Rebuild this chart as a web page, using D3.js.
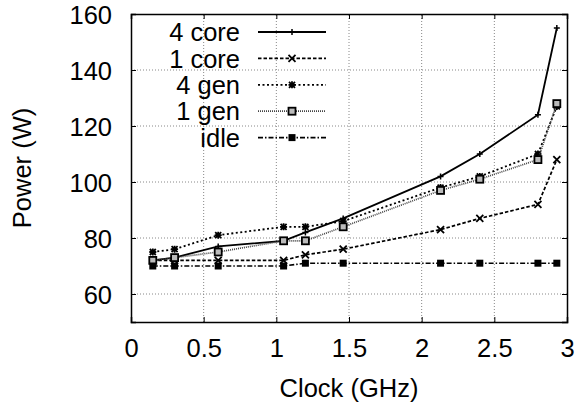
<!DOCTYPE html>
<html>
<head>
<meta charset="utf-8">
<script src="https://cdn.jsdelivr.net/npm/d3@7"></script>
<style>
  html, body { margin: 0; padding: 0; background: #fff; }
  svg { display: block; font-family: "Liberation Sans", Arial, Helvetica, sans-serif; }
</style>
</head>
<body>
<svg id="chart" width="577" height="406"></svg>
<script>
// Measured power draw against CPU clock frequency
const clock = [0.15, 0.3, 0.6, 1.05, 1.2, 1.46, 2.13, 2.4, 2.8, 2.93];
const core4 = [72, 73, 77, 79, 82, 87, 102, 110, 124, 155];
const core1 = [72, 72, 72, 72, 74, 76, 83, 87, 92, 108];
const gen4  = [75, 76, 81, 84, 84, 86, 98, 102, 110, 127];
const gen1  = [72, 73, 75, 79, 79, 84, 97, 101, 108, 128];
const idle  = [70, 70, 70, 70, 71, 71, 71, 71, 71, 71];

const seriesNames = ["4 core", "1 core", "4 gen", "1 gen", "idle"];
const xTicks = [0, 0.5, 1, 1.5, 2, 2.5, 3];
const yTicks = [60, 80, 100, 120, 140, 160];

const styles = {
  "4 core": { values: core4, dash: null,        width: 1.8, color: "#000", marker: "plus" },
  "1 core": { values: core1, dash: "3.5,2",     width: 1.7, color: "#000", marker: "cross" },
  "4 gen":  { values: gen4,  dash: "2,2.5",     width: 1.8, color: "#000", marker: "star" },
  "1 gen":  { values: gen1,  dash: "1,1",       width: 1.7, color: "#444", marker: "box" },
  "idle":   { values: idle,  dash: "5,2,1.5,2", width: 1.6, color: "#000", marker: "fbox" }
};

const W = 577, H = 406;
const m = { left: 131, right: 10, top: 14, bottom: 84 };
const svg = d3.select("#chart");

const x = d3.scaleLinear().domain([0, 3]).range([m.left, W - m.right]);
const y = d3.scaleLinear().domain([50, 160]).range([H - m.bottom, m.top]);

// Grid
const grid = svg.append("g");
grid.selectAll("line.gx").data(xTicks.filter(t => t > 0 && t < 3)).join("line")
  .attr("x1", d => x(d)).attr("x2", d => x(d))
  .attr("y1", y(50)).attr("y2", y(160))
  .attr("stroke", "#888").attr("stroke-width", 1).attr("stroke-dasharray", "1,2");
grid.selectAll("line.gy").data(yTicks.filter(t => t < 160)).join("line")
  .attr("x1", x(0)).attr("x2", x(3))
  .attr("y1", d => y(d)).attr("y2", d => y(d))
  .attr("stroke", "#888").attr("stroke-width", 1).attr("stroke-dasharray", "1,2");

// Axes with inward ticks on all four sides
const fs = 25.5;
const axBottom = svg.append("g").attr("transform", `translate(0,${y(50)})`)
  .call(d3.axisBottom(x).tickValues(xTicks).tickSize(-5).tickPadding(17).tickFormat(d3.format("")));
const axTop = svg.append("g").attr("transform", `translate(0,${y(160)})`)
  .call(d3.axisTop(x).tickValues(xTicks).tickSize(-5).tickFormat(""));
const axLeft = svg.append("g").attr("transform", `translate(${x(0)},0)`)
  .call(d3.axisLeft(y).tickValues(yTicks).tickSize(-5).tickPadding(19));
const axRight = svg.append("g").attr("transform", `translate(${x(3)},0)`)
  .call(d3.axisRight(y).tickValues(yTicks).tickSize(-5).tickFormat(""));
[axBottom, axTop, axLeft, axRight].forEach(g => {
  g.select(".domain").attr("stroke", "#000").attr("stroke-width", 1.5);
  g.selectAll(".tick line").attr("stroke", "#000").attr("stroke-width", 1);
  g.selectAll(".tick text").attr("font-size", fs).attr("fill", "#000")
    .attr("font-family", "'Liberation Sans', Arial, sans-serif");
});
axLeft.selectAll(".tick text").attr("dy", "0.36em");
axBottom.selectAll(".tick text").attr("dy", "0.71em");

// Axis titles
svg.append("text").attr("x", (x(0) + x(3)) / 2).attr("y", 397)
  .attr("text-anchor", "middle").attr("font-size", fs).text("Clock (GHz)");
svg.append("text").attr("transform", `translate(31,${(y(50) + y(160)) / 2}) rotate(-90)`)
  .attr("text-anchor", "middle").attr("font-size", fs).text("Power (W)");

// Marker shapes
function drawMarker(g, kind, cx, cy, color) {
  const s = g.append("g").attr("transform", `translate(${cx},${cy})`);
  if (kind === "plus") {
    s.append("path").attr("d", "M-3,0H3M0,-3V3").attr("stroke", color).attr("stroke-width", 1.5);
  } else if (kind === "cross") {
    s.append("path").attr("d", "M-3.5,-3.5L3.5,3.5M-3.5,3.5L3.5,-3.5").attr("stroke", color).attr("stroke-width", 1.8);
  } else if (kind === "star") {
    s.append("path").attr("d", "M-3.5,0H3.5M0,-3.5V3.5M-3,-3L3,3M-3,3L3,-3").attr("stroke", color).attr("stroke-width", 1.8);
  } else if (kind === "box") {
    s.append("rect").attr("x", -3.5).attr("y", -3.5).attr("width", 7).attr("height", 7)
      .attr("fill", "#bbb").attr("stroke", "#000").attr("stroke-width", 1.8);
  } else if (kind === "fbox") {
    s.append("rect").attr("x", -3.5).attr("y", -3.5).attr("width", 7).attr("height", 7).attr("fill", "#000");
  }
}

// Series
const line = d3.line().x(d => x(d[0])).y(d => y(d[1]));
const plot = svg.append("g");
seriesNames.forEach(name => {
  const st = styles[name];
  const pts = clock.map((c, i) => [c, st.values[i]]);
  plot.append("path").datum(pts).attr("d", line)
    .attr("fill", "none").attr("stroke", st.color).attr("stroke-width", st.width)
    .attr("stroke-dasharray", st.dash);
  pts.forEach(p => drawMarker(plot, st.marker, x(p[0]), y(p[1]), "#000"));
});

// Legend
const leg = svg.append("g");
seriesNames.forEach((name, i) => {
  const st = styles[name];
  const ly = 32 + i * 26.4;
  leg.append("text").attr("x", 240).attr("y", ly).attr("dy", "0.36em")
    .attr("text-anchor", "end").attr("font-size", fs).text(name);
  leg.append("line").attr("x1", 258).attr("x2", 326).attr("y1", ly).attr("y2", ly)
    .attr("stroke", st.color).attr("stroke-width", st.width).attr("stroke-dasharray", st.dash);
  drawMarker(leg, st.marker, 292, ly, "#000");
});
</script>
</body>
</html>
